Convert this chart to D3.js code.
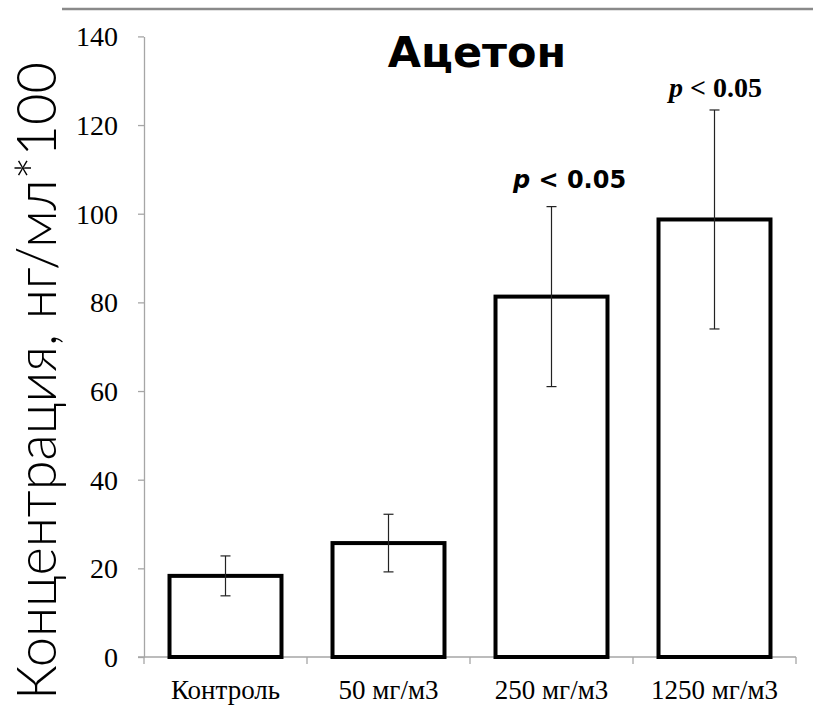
<!DOCTYPE html>
<html>
<head>
<meta charset="utf-8">
<script src="https://cdn.jsdelivr.net/npm/d3@7"></script>
<style>
  html, body { margin: 0; padding: 0; background: #fff; }
  svg { display: block; }
</style>
</head>
<body>
<svg id="chart" width="813" height="718"></svg>
<script>
// Acetone concentration by exposure group (mean ± error)
const categories = ["Контроль", "50 мг/м3", "250 мг/м3", "1250 мг/м3"];
const means = [18.3, 25.7, 81.3, 98.7];
const errors = [4.5, 6.5, 20.3, 24.7];
const yTicks = [0, 20, 40, 60, 80, 100, 120, 140];
const significance = ["", "", "p < 0.05", "p < 0.05"];

const svg = d3.select("#chart");
const plot = { left: 144, right: 796, top: 36.4, bottom: 657 };
const serif = "'Liberation Serif', 'Times New Roman', serif";
const sans = "'DejaVu Sans', 'Noto Sans', sans-serif";

const x = d3.scaleBand()
  .domain(categories)
  .range([plot.left, plot.right])
  .paddingInner(0.313)
  .paddingOuter(0.1565);

const y = d3.scaleLinear()
  .domain([0, 140])
  .range([plot.bottom, plot.top]);

// top rule
svg.append("line")
  .attr("x1", 62).attr("x2", 813)
  .attr("y1", 9).attr("y2", 9)
  .attr("stroke", "#8a8a8a").attr("stroke-width", 2.5);

// y axis
const yAxis = svg.append("g")
  .attr("transform", `translate(${plot.left},0)`)
  .call(d3.axisLeft(y).tickValues(yTicks).tickSize(6).tickPadding(20).tickSizeOuter(0));
yAxis.attr("font-family", serif).attr("font-size", 28);
yAxis.select(".domain").attr("stroke", "#a6a6a6").attr("stroke-width", 1.3);
yAxis.selectAll(".tick line").attr("stroke", "#a6a6a6").attr("stroke-width", 1.3);
yAxis.selectAll(".tick text")
  .attr("font-family", serif)
  .attr("font-size", 28)
  .attr("dy", "0.34em")
  .attr("fill", "#000");

// x axis line with tick marks at category boundaries
const xAxisG = svg.append("g");
xAxisG.append("line")
  .attr("x1", plot.left - 6).attr("x2", plot.right)
  .attr("y1", plot.bottom).attr("y2", plot.bottom)
  .attr("stroke", "#a6a6a6").attr("stroke-width", 1.3);
const boundaries = d3.range(categories.length + 1).map(i => plot.left + i * x.step());
xAxisG.selectAll("line.bt")
  .data(boundaries)
  .join("line")
  .attr("class", "bt")
  .attr("x1", d => d).attr("x2", d => d)
  .attr("y1", plot.bottom).attr("y2", plot.bottom + 7)
  .attr("stroke", "#a6a6a6").attr("stroke-width", 1.3);
xAxisG.selectAll("text")
  .data(categories)
  .join("text")
  .attr("x", d => x(d) + x.bandwidth() / 2)
  .attr("y", 699)
  .attr("text-anchor", "middle")
  .attr("font-family", serif)
  .attr("font-size", 27)
  .attr("fill", "#000")
  .text(d => d);

// bars
svg.append("g").selectAll("rect")
  .data(categories)
  .join("rect")
  .attr("x", d => x(d))
  .attr("y", (d, i) => y(means[i]))
  .attr("width", x.bandwidth())
  .attr("height", (d, i) => y(0) - y(means[i]))
  .attr("fill", "#fff")
  .attr("stroke", "#000")
  .attr("stroke-width", 4);

// error bars
const eb = svg.append("g").attr("stroke", "#222").attr("stroke-width", 1.2);
categories.forEach((c, i) => {
  const cx = x(c) + x.bandwidth() / 2;
  const hi = y(means[i] + errors[i]);
  const lo = y(means[i] - errors[i]);
  eb.append("line").attr("x1", cx).attr("x2", cx).attr("y1", hi).attr("y2", lo);
  eb.append("line").attr("x1", cx - 5).attr("x2", cx + 5).attr("y1", hi).attr("y2", hi);
  eb.append("line").attr("x1", cx - 5).attr("x2", cx + 5).attr("y1", lo).attr("y2", lo);
});

// significance labels
const sig1 = svg.append("text")
  .attr("x", x(categories[2]) + x.bandwidth() / 2 + 18)
  .attr("y", y(means[2] + errors[2]) - 19)
  .attr("text-anchor", "middle")
  .attr("font-family", sans)
  .attr("font-weight", "bold")
  .attr("font-size", 24)
  .attr("fill", "#000");
sig1.append("tspan").attr("font-style", "italic").text("p");
sig1.append("tspan").text(significance[2].slice(1));

const sig2 = svg.append("text")
  .attr("x", x(categories[3]) + x.bandwidth() / 2 + 1)
  .attr("y", y(means[3] + errors[3]) - 13)
  .attr("text-anchor", "middle")
  .attr("font-family", serif)
  .attr("font-weight", "bold")
  .attr("font-size", 28)
  .attr("fill", "#000");
sig2.append("tspan").attr("font-style", "italic").text("p");
sig2.append("tspan").text(significance[3].slice(1));

// title
svg.append("text")
  .attr("x", 477)
  .attr("y", 67)
  .attr("text-anchor", "middle")
  .attr("font-family", sans)
  .attr("font-weight", "bold")
  .attr("font-size", 43)
  .attr("fill", "#000")
  .text("Ацетон");

// y axis title, sized to span the plot height
const yTitle = svg.append("text")
  .attr("transform", "translate(56,381) rotate(-90)")
  .attr("text-anchor", "middle")
  .attr("font-family", "Lato, 'Noto Sans', sans-serif")
  .attr("font-weight", 300)
  .attr("font-size", 40)
  .attr("fill", "#000")
  .text("Концентрация, нг/мл*100");
const len = yTitle.node().getComputedTextLength();
yTitle.attr("font-size", 40 * 638 / len);
</script>
</body>
</html>
